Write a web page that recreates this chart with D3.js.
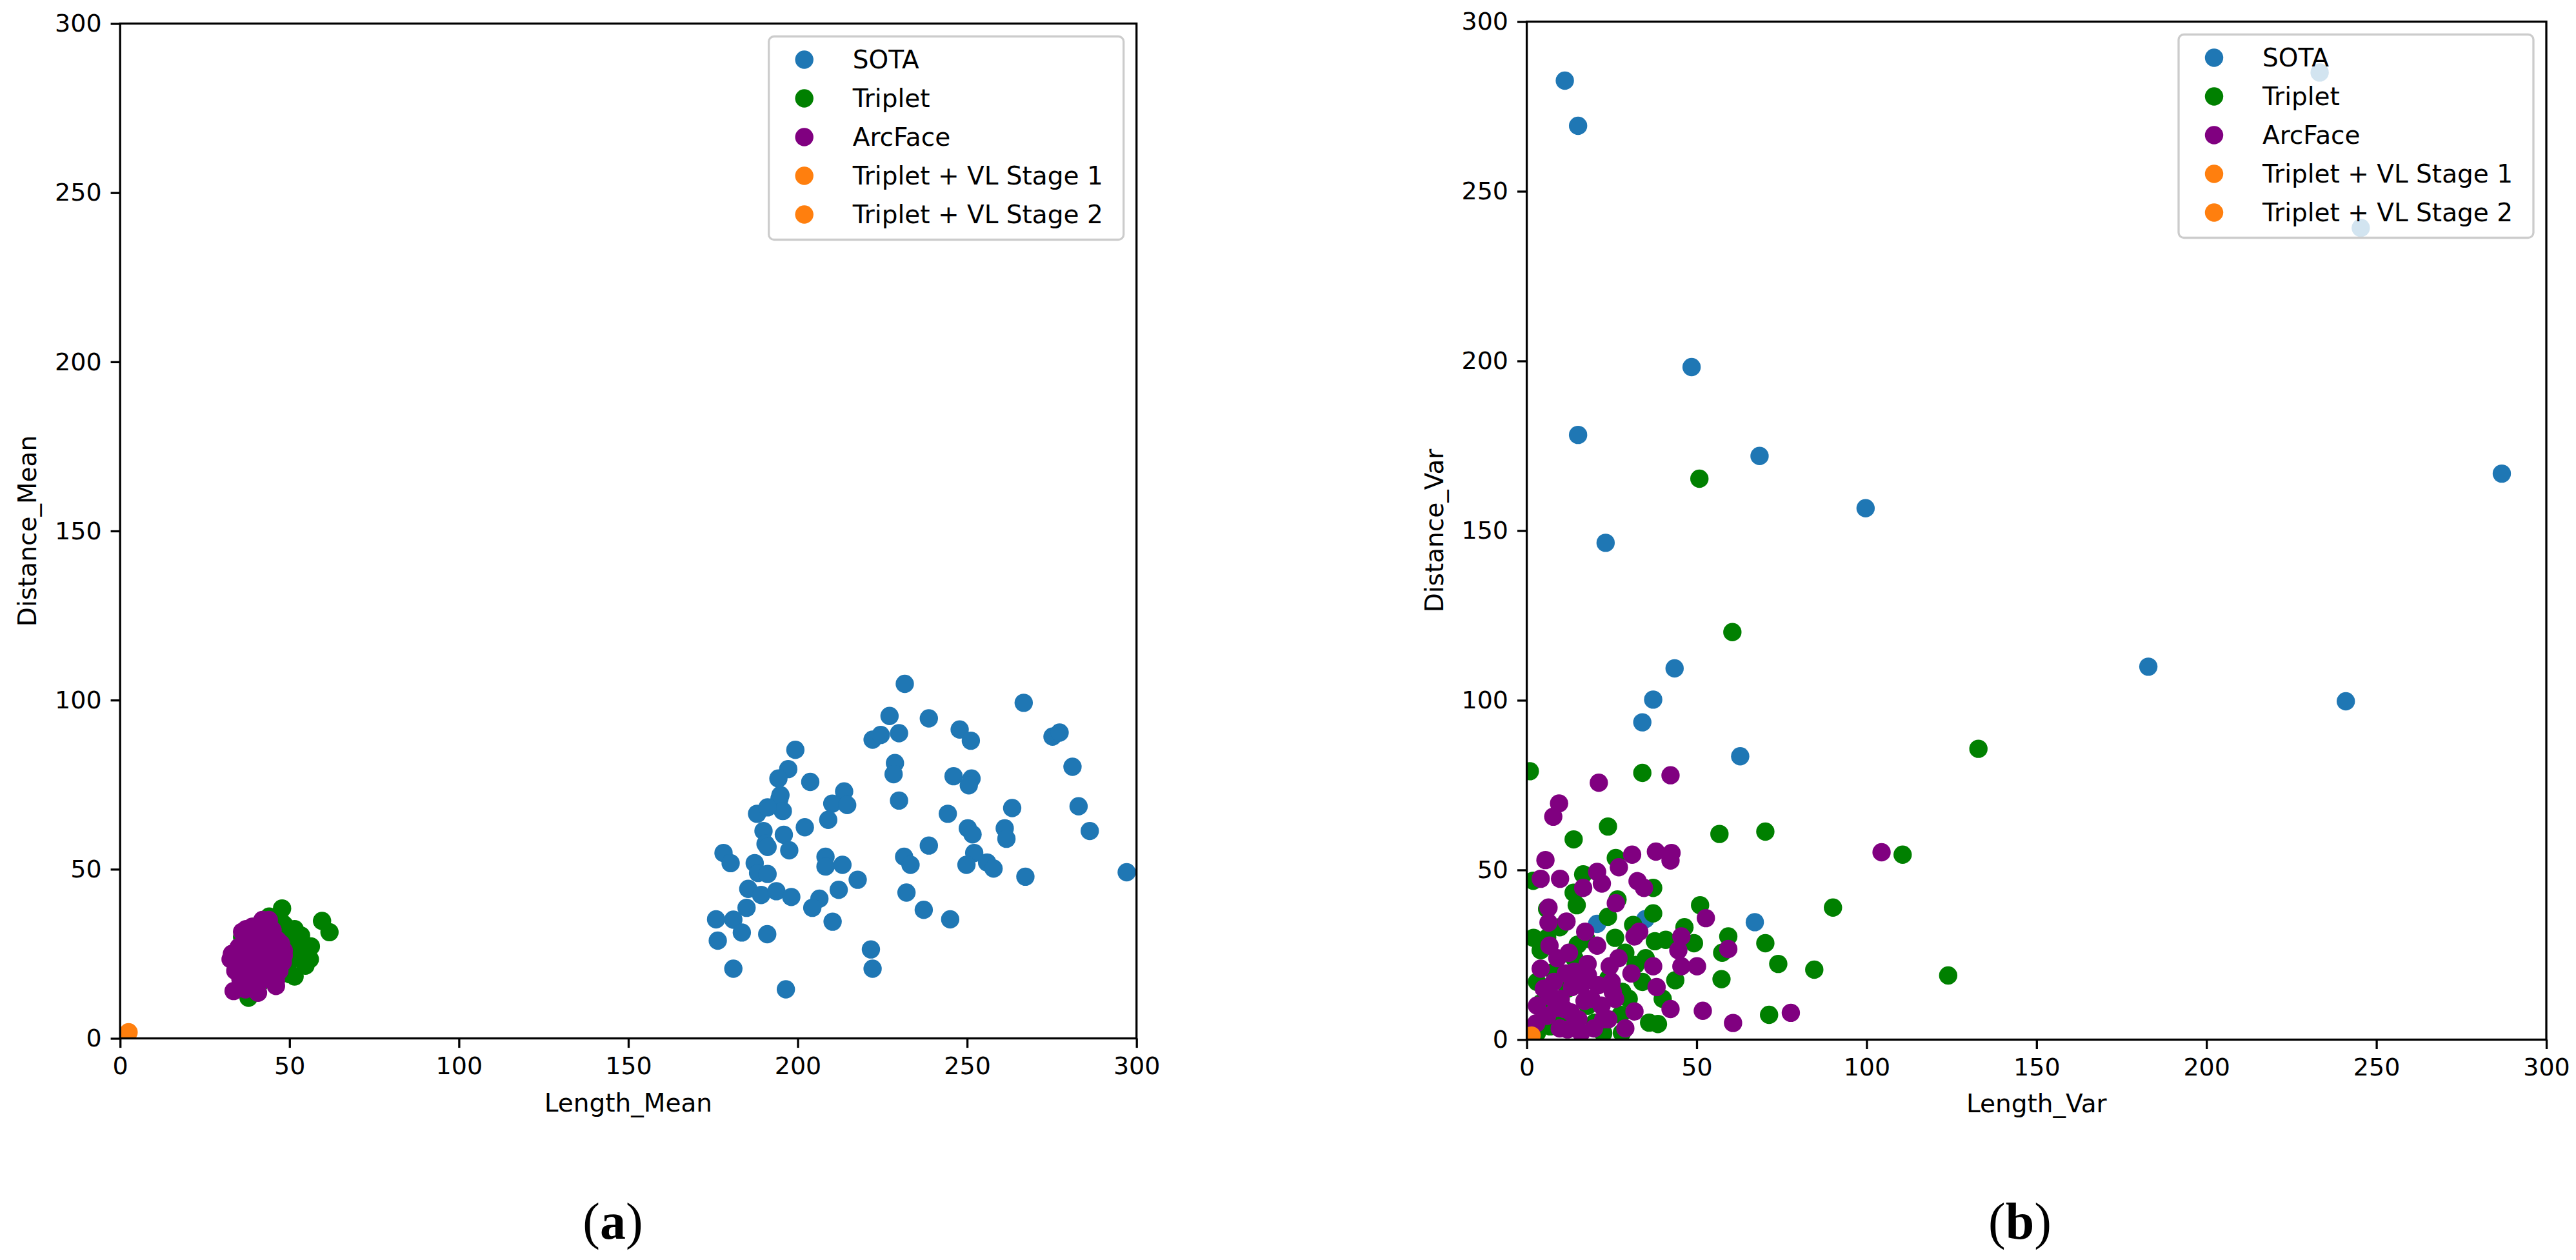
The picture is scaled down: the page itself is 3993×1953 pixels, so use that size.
<!DOCTYPE html>
<html>
<head>
<meta charset="utf-8">
<script src="https://cdn.jsdelivr.net/npm/d3@7"></script>
<style>
  body { margin: 0; background: #fff; }
</style>
</head>
<body>
<div id="chart"></div>
<script>
// ---- data ----
const tickValues = [0, 50, 100, 150, 200, 250, 300];
const seriesNames = ["SOTA", "Triplet", "ArcFace", "Triplet + VL Stage 1", "Triplet + VL Stage 2"];

// panel (a): Length_Mean vs Distance_Mean
const meanSota = [
  [231.6,104.8],[227.1,95.3],[229.9,90.2],[222.1,88.3],[224.5,89.7],[238.7,94.6],[228.7,81.4],[228.3,78.1],
  [229.9,70.3],[238.7,57.0],[231.4,53.7],[233.3,51.3],[232.1,43.1],[237.2,38.0],[221.6,26.3],[222.1,20.6],
  [199.3,85.3],[197.2,79.6],[194.3,76.8],[203.7,75.8],[194.6,70.8],[194.9,71.9],[195.6,67.2],[188.0,66.4],
  [191.1,68.3],[213.7,73.0],[210.2,69.4],[214.6,69.0],[209.0,64.6],[202.1,62.4],[189.9,61.3],[195.9,60.2],
  [190.5,57.5],[191.1,56.6],[197.5,55.6],[178.1,54.8],[180.2,51.8],[187.3,51.8],[188.3,48.9],[191.1,48.6],
  [185.4,44.2],[189.2,42.4],[193.7,43.5],[198.1,41.8],[208.2,53.7],[208.2,50.8],[213.2,51.3],[217.7,46.9],
  [212.1,43.9],[206.4,41.3],[204.3,38.6],[184.9,38.6],[175.9,35.2],[181.0,35.1],[183.5,31.3],[176.4,28.9],
  [191.0,30.8],[210.3,34.5],[181.0,20.6],[196.5,14.5],
  [266.7,99.2],[247.8,91.3],[251.1,88.0],[275.2,89.2],[277.3,90.4],[281.1,80.3],[246.0,77.5],[251.3,76.8],
  [250.5,74.8],[244.3,66.4],[263.3,68.1],[282.9,68.6],[286.2,61.3],[250.2,62.1],[251.6,60.3],[261.1,62.1],
  [261.6,59.0],[252.1,54.8],[249.8,51.3],[255.9,52.0],[257.8,50.2],[267.2,47.8],[297.1,49.1],[245.0,35.2]
];
const meanTriplet = [
  [47.8,38.4],[59.6,34.7],[61.8,31.4],[39.5,33.0],[48.5,33.5],[51.5,32.3],[53.4,30.4],[56.3,27.2],
  [53.4,26.0],[56.0,23.4],[54.7,21.5],[51.5,18.3],[49.6,22.1],[37.9,12.0],[42,28],[45,25],[40,20],
  [44,22],[38,25],[47,30],[48,34],[43,32],[50,28],[49,20],[46,18],[41,16],[39,14.5],[49.6,29.8],
  [36,30],[44,36],[52,24],[50,19]
];
const meanArcFace = [
  [43.9,35.0],[41.5,33.5],[45,32],[38,30.5],[37.2,32.3],[40,31],[43,30],[46.5,29],[35,27],[38.5,27.5],
  [42,27],[45.5,26.5],[48.3,26],[33,25],[36.5,25],[40,25],[43.5,24.5],[47,24],[32.6,23.4],[35,22.5],
  [38,22],[41.5,22],[45,22],[48,22.5],[34,20],[37,19.5],[40.5,20],[44,19.5],[47,20],[35.5,17.5],
  [39,17.5],[42.5,17.5],[46,17],[33.5,14],[37,14.5],[40.7,13.5],[46,15.5],[36,31.5],[39,33],[42,35],
  [48.3,24.5],[47.5,28]
];
const meanStage1 = [[2.0, 1.2]];
const meanStage2 = [[2.5, 1.8]];

// panel (b): Length_Var vs Distance_Var
const varSota = [
  [11.2,282.6],[15.1,269.3],[48.5,198.2],[15.1,178.2],[68.5,172.0],[23.2,146.4],[99.7,156.6],[182.9,109.9],
  [241.0,99.7],[286.9,166.8],[43.5,109.4],[37.2,100.2],[34.0,93.5],[62.8,83.5],[67.1,34.6],[20.7,34.1],
  [34.9,35.5],[233.3,285.0],[245.4,239.2]
];
const varTriplet = [
  [132.9,85.7],[0.9,79.1],[34.0,78.6],[23.9,62.8],[13.8,59.0],[56.7,60.6],[70.2,61.3],[110.6,54.5],
  [26.2,53.5],[16.6,48.7],[1.9,46.8],[37.2,44.7],[13.8,43.3],[14.7,39.6],[51.0,39.6],[90.1,38.9],
  [6.0,38.5],[26.7,41.3],[37.2,37.2],[23.9,36.2],[46.4,33.1],[31.3,33.8],[37.7,29.0],[40.9,29.4],
  [49.2,28.4],[59.3,30.4],[57.5,25.6],[70.2,28.4],[74.0,22.3],[84.6,20.6],[124.0,18.9],[57.3,17.8],
  [43.7,17.5],[29.0,25.6],[71.3,7.3],[38.6,4.6],[4.1,26.3],[4.1,10.7],[9.7,33.1],[17.5,29.7],
  [27.6,7.3],[6.9,3.9],[22.5,1.9],[28.1,14.1],[50.8,165.3],[60.5,120.1],
  [8,20],[12,15],[18,10],[3,17],[24,18],[32,22],[14,24],[20,5],[30,12],[36,5],
  [2,30],[6,30],[10,5],[15,28],[26,30],[35,24],[40,12],[3,2],[28,2],[34,17]
];
const varArcFace = [
  [104.4,55.2],[42.3,77.9],[21.2,75.7],[9.5,69.6],[7.8,65.7],[5.5,52.9],[4.1,47.4],[9.8,47.4],
  [20.7,49.4],[22.1,46.0],[16.6,44.7],[27.1,50.8],[31.0,54.5],[38.0,55.4],[42.6,55.0],[42.3,52.8],
  [32.6,46.7],[34.5,44.7],[26.2,40.2],[6.4,38.9],[6.4,34.5],[11.7,34.8],[17.2,31.8],[31.7,30.4],
  [33.1,31.8],[52.7,35.8],[45.5,30.4],[44.6,26.3],[45.5,21.6],[50.1,21.6],[59.3,26.7],[6.7,27.7],
  [12.4,25.6],[20.7,27.7],[4.1,20.9],[17.9,22.3],[24.4,21.6],[30.8,19.5],[37.2,21.6],[38.2,15.5],
  [25.3,14.1],[13.3,15.5],[6.9,12.7],[17.0,11.4],[31.7,8.3],[42.3,9.0],[51.8,8.5],[60.7,4.9],
  [77.7,7.9],[2.8,4.8],[9.7,3.3],[19.8,3.3],[29.0,3.3],[22.5,6.0],[11.5,19.5],[8.7,9.4],[15.2,6.0],
  [5,15],[8,17],[10,12],[13,8],[16,16],[19,12],[22,10],[25,17],[27,24],[14,20],
  [9,24],[3,10],[6,7],[12,3],[18,19],[21,16],[24,6],[26,12],[11,9],[16,2]
];
const varStage1 = [[1.0, 0.8]];
const varStage2 = [[1.4, 1.2]];

// ---- drawing ----
const COLORS = ["#1f77b4", "#008000", "#800080", "#ff7f0e", "#ff7f0e"];
const FONT = "'DejaVu Sans', sans-serif";
const R = 14.2;

const svg = d3.select("#chart").append("svg")
  .attr("width", 3993)
  .attr("height", 1953)
  .style("font-family", FONT);

svg.append("rect").attr("width", 3993).attr("height", 1953).attr("fill", "#fff");

const panels = [
  { id: "a", left: 186.2, right: 1761.7, top: 36.5, bottom: 1609.5,
    xLabel: "Length_Mean", yLabel: "Distance_Mean", tag: "a", tagX: 950,
    series: [meanSota, meanTriplet, meanArcFace, meanStage1, meanStage2] },
  { id: "b", left: 2366.6, right: 3947, top: 33.5, bottom: 1611.4,
    xLabel: "Length_Var", yLabel: "Distance_Var", tag: "b", tagX: 3131,
    series: [varSota, varTriplet, varArcFace, varStage1, varStage2] }
];

panels.forEach(p => drawPanel(p));

function drawPanel(p) {
  const x = d3.scaleLinear().domain([0, 300]).range([p.left, p.right]);
  const y = d3.scaleLinear().domain([0, 300]).range([p.bottom, p.top]);

  svg.append("clipPath").attr("id", "clip-" + p.id)
    .append("rect")
    .attr("x", p.left).attr("y", p.top)
    .attr("width", p.right - p.left).attr("height", p.bottom - p.top);

  const marks = svg.append("g").attr("clip-path", `url(#clip-${p.id})`);
  p.series.forEach((data, i) => {
    marks.append("g")
      .selectAll("circle")
      .data(data)
      .join("circle")
      .attr("cx", d => x(d[0]))
      .attr("cy", d => y(d[1]))
      .attr("r", R)
      .attr("fill", COLORS[i]);
  });

  // axes
  const xAxis = svg.append("g")
    .attr("transform", `translate(0,${p.bottom})`)
    .call(d3.axisBottom(x).tickValues(tickValues).tickSize(14.6).tickPadding(14).tickSizeOuter(0));
  const yAxis = svg.append("g")
    .attr("transform", `translate(${p.left},0)`)
    .call(d3.axisLeft(y).tickValues(tickValues).tickSize(14.6).tickPadding(14).tickSizeOuter(0));

  [xAxis, yAxis].forEach(g => {
    g.selectAll("path.domain").remove();
    g.selectAll("line").attr("stroke", "#000").attr("stroke-width", 3.3);
    g.selectAll("text").attr("fill", "#000").style("font-size", "38px").style("font-family", FONT);
  });

  // spines
  svg.append("rect")
    .attr("x", p.left).attr("y", p.top)
    .attr("width", p.right - p.left).attr("height", p.bottom - p.top)
    .attr("fill", "none").attr("stroke", "#000").attr("stroke-width", 3.3);

  // axis labels
  svg.append("text")
    .attr("x", (p.left + p.right) / 2)
    .attr("y", p.bottom + 113)
    .attr("text-anchor", "middle")
    .style("font-size", "39px")
    .text(p.xLabel);

  svg.append("text")
    .attr("transform", `translate(${p.left - 130},${(p.top + p.bottom) / 2}) rotate(-90)`)
    .attr("text-anchor", "middle")
    .style("font-size", "39px")
    .text(p.yLabel);

  // legend
  const lw = 550, lh = 315;
  const lg = svg.append("g").attr("transform", `translate(${p.right - 20 - lw},${p.top + 20})`);
  lg.append("rect")
    .attr("width", lw).attr("height", lh)
    .attr("rx", 8).attr("ry", 8)
    .attr("fill", "#fff").attr("fill-opacity", 0.8)
    .attr("stroke", "#cccccc").attr("stroke-width", 3.3);
  seriesNames.forEach((name, i) => {
    const cy = 36 + i * 60;
    lg.append("circle").attr("cx", 55).attr("cy", cy).attr("r", R).attr("fill", COLORS[i]);
    lg.append("text")
      .attr("x", 130).attr("y", cy).attr("dy", "0.35em")
      .style("font-size", "39px")
      .text(name);
  });

  // sub-figure tag
  const t = svg.append("text")
    .attr("x", p.tagX).attr("y", 1920)
    .attr("text-anchor", "middle")
    .style("font-family", "'Liberation Serif', 'DejaVu Serif', serif")
    .style("font-size", "80px");
  t.append("tspan").text("(");
  t.append("tspan").attr("font-weight", "bold").text(p.tag);
  t.append("tspan").text(")");
}
</script>
</body>
</html>
